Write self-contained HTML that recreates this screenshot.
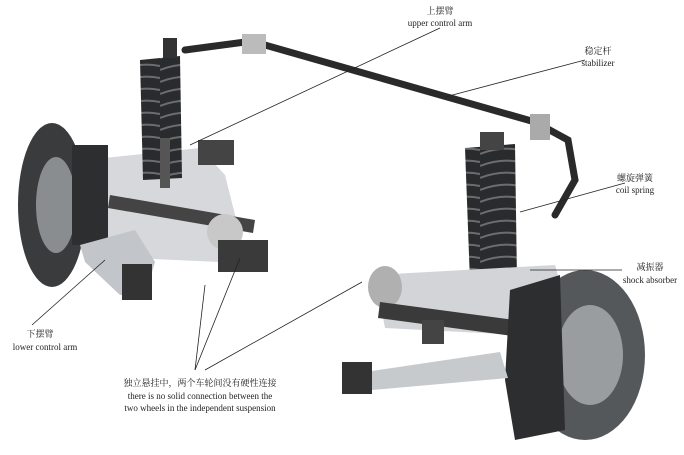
<!DOCTYPE html>
<html><head><meta charset="utf-8"><style>
body{margin:0;background:#fff}
svg{display:block}
text{font-family:"Liberation Serif","Noto Serif CJK SC",serif;font-size:9px;fill:#222}
</style></head><body>
<svg width="684" height="455" viewBox="0 0 684 455">
<defs>
<pattern id="coil" width="40" height="12" patternUnits="userSpaceOnUse">
<rect width="40" height="12" fill="#2a2b2d"/>
<path d="M0 10 Q20 2 40 6" stroke="#6a6c70" stroke-width="2" fill="none"/>
</pattern>
</defs>
<!-- stabilizer bar -->
<path d="M185 50 L245 42 L265 45 L535 122 L568 140 L575 180 L555 215" stroke="#2a2a2a" stroke-width="7" fill="none" stroke-linecap="round"/>
<rect x="242" y="34" width="24" height="20" fill="#bbb"/>
<rect x="530" y="114" width="20" height="26" fill="#aaa"/>
<!-- left assembly -->
<path d="M85 160 L200 148 L225 175 L240 235 L220 262 L130 258 L80 245 Z" fill="#d6d8db"/>
<ellipse cx="52" cy="205" rx="34" ry="82" fill="#3a3b3d"/>
<ellipse cx="56" cy="205" rx="20" ry="48" fill="#8a8d90"/>
<rect x="72" y="145" width="36" height="100" fill="#2d2e30"/>
<path d="M140 60 L180 56 L182 178 L143 180 Z" fill="url(#coil)"/>
<rect x="160" y="138" width="10" height="50" fill="#555"/>
<rect x="163" y="38" width="14" height="20" fill="#333"/>
<path d="M110 195 L255 220 L253 233 L108 208 Z" fill="#444"/>
<ellipse cx="225" cy="232" rx="18" ry="18" fill="#c8c8c8"/>
<path d="M80 245 L135 230 L155 262 L145 295 L120 295 L85 262 Z" fill="#c2c5c9"/>
<rect x="122" y="264" width="30" height="36" fill="#333"/>
<rect x="218" y="240" width="50" height="32" fill="#3a3a3a"/>
<rect x="198" y="140" width="36" height="25" fill="#444"/>
<!-- right assembly -->
<path d="M465 148 L515 144 L517 280 L470 282 Z" fill="url(#coil)"/>
<rect x="480" y="132" width="24" height="18" fill="#444"/>
<path d="M375 275 L555 265 L565 300 L520 335 L385 328 Z" fill="#d2d4d7"/>
<ellipse cx="385" cy="287" rx="17" ry="21" fill="#b0b0b0"/>
<path d="M380 302 L515 320 L513 336 L378 318 Z" fill="#3a3a3a"/>
<ellipse cx="585" cy="355" rx="60" ry="85" fill="#55585b"/>
<ellipse cx="590" cy="355" rx="33" ry="50" fill="#9a9da0"/>
<path d="M510 290 L560 275 L565 430 L515 440 L505 380 Z" fill="#2d2e30"/>
<path d="M365 372 L500 352 L508 378 L372 390 Z" fill="#c7cacd"/>
<rect x="342" y="362" width="30" height="32" fill="#333"/>
<rect x="422" y="320" width="22" height="24" fill="#444"/>
<!-- leader lines -->
<g stroke="#222" stroke-width="0.8">
<line x1="440" y1="28" x2="190" y2="145"/>
<line x1="585" y1="60" x2="445" y2="97"/>
<line x1="625" y1="183" x2="520" y2="212"/>
<line x1="622" y1="270" x2="530" y2="270"/>
<line x1="32" y1="325" x2="105" y2="260"/>
<line x1="195" y1="370" x2="240" y2="258"/>
<line x1="195" y1="370" x2="205" y2="285"/>
<line x1="205" y1="370" x2="362" y2="282"/>
</g>
<!-- labels -->
<text x="440" y="14" text-anchor="middle">上摆臂</text>
<text x="440" y="26" text-anchor="middle">upper control arm</text>
<text x="598" y="54" text-anchor="middle">稳定杆</text>
<text x="598" y="66" text-anchor="middle">stabilizer</text>
<text x="635" y="181" text-anchor="middle">螺旋弹簧</text>
<text x="635" y="193" text-anchor="middle">coil spring</text>
<text x="650" y="270" text-anchor="middle">减振器</text>
<text x="650" y="283" text-anchor="middle">shock absorber</text>
<text x="40" y="337" text-anchor="middle">下摆臂</text>
<text x="45" y="350" text-anchor="middle">lower control arm</text>
<text x="200" y="386" text-anchor="middle">独立悬挂中，两个车轮间没有硬性连接</text>
<text x="200" y="399" text-anchor="middle">there is no solid connection between the</text>
<text x="200" y="411" text-anchor="middle">two wheels in the independent suspension</text>
</svg>
</body></html>
